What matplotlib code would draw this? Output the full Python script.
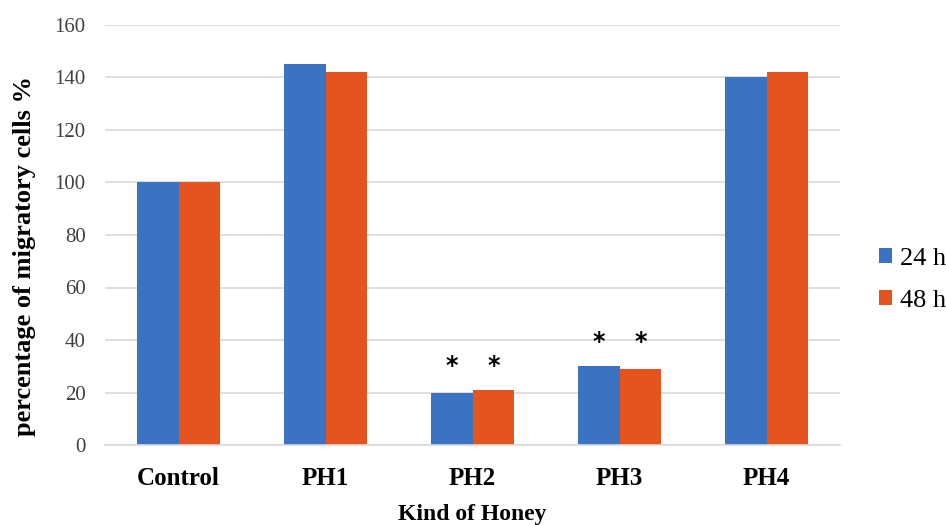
import matplotlib.pyplot as plt
import numpy as np

categories = ['Control', 'PH1', 'PH2', 'PH3', 'PH4']
vals_24h = [100, 145, 20, 30, 140]
vals_48h = [100, 142, 21, 29, 142]
star_24h = ['', '', '*', '*', '']
star_48h = ['', '', '*', '*', '']

blue = '#3A73C2'
orange = '#E5541E'

fig = plt.figure(figsize=(9.46, 5.25), dpi=100)
ax = fig.add_axes([105 / 946, 80 / 525, 735 / 946, 420 / 525])

x = np.arange(len(categories))
w = 0.285
b1 = ax.bar(x - w / 2, vals_24h, w, color=blue, label='24 h')
b2 = ax.bar(x + w / 2, vals_48h, w, color=orange, label='48 h')

# significance marks
for i in range(len(categories)):
    top = max(vals_24h[i], vals_48h[i])
    if star_24h[i]:
        ax.text(x[i] - w / 2, top + 4.5, star_24h[i], ha='center', va='bottom',
                fontsize=17, fontweight='bold', family='DejaVu Sans')
    if star_48h[i]:
        ax.text(x[i] + w / 2, top + 4.5, star_48h[i], ha='center', va='bottom',
                fontsize=17, fontweight='bold', family='DejaVu Sans')

ax.set_xlim(-0.5, len(categories) - 0.5)
ax.set_ylim(0, 160)
ax.set_yticks(np.arange(0, 161, 20))
ax.yaxis.grid(True, color='#D9D9D9', linewidth=1.2)
ax.set_axisbelow(True)
for s in ['top', 'right', 'left']:
    ax.spines[s].set_visible(False)
ax.spines['bottom'].set_color('#D9D9D9')
ax.spines['bottom'].set_linewidth(1.2)
ax.tick_params(length=0)

ax.set_xticks(x)
ax.set_xticklabels(categories, fontsize=18, fontweight='bold', family='Liberation Serif')
for t in ax.get_yticklabels():
    t.set_family('Liberation Serif')
    t.set_fontsize(15)
    t.set_color('#404040')
ax.tick_params(axis='y', pad=14)
ax.tick_params(axis='x', pad=16)

ax.set_xlabel('Kind of Honey', fontsize=17, fontweight='bold', family='Liberation Serif', labelpad=10)
ax.set_ylabel('percentage of migratory cells %', fontsize=19, fontweight='bold',
              family='Liberation Serif')
ax.yaxis.set_label_coords(-0.094, 0.45)

fig.legend(handles=[b1, b2], loc='center left', bbox_to_anchor=(879 / 946, 1 - 280 / 525),
           frameon=False, prop={'family': 'Liberation Serif', 'size': 19},
           handlelength=0.5, handleheight=0.5, handletextpad=0.3, labelspacing=0.75,
           borderpad=0, borderaxespad=0)

plt.savefig('out.png', dpi=100)
plt.close()
